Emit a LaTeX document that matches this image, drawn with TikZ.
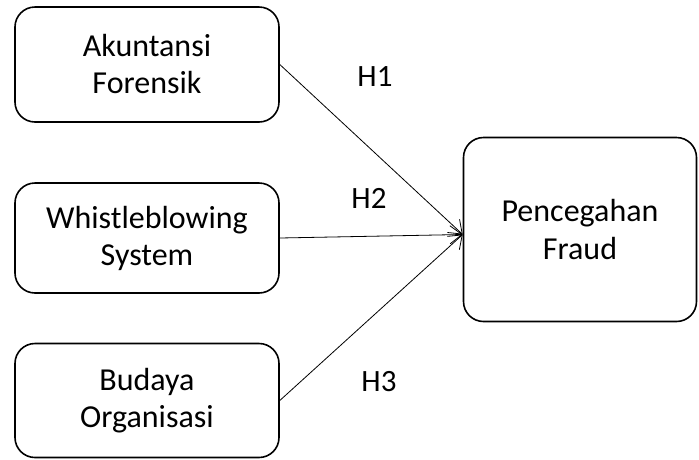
\documentclass[tikz,border=0pt]{standalone}
\usepackage{fontspec}
\setmainfont{Carlito}
\usetikzlibrary{arrows.meta}
\tikzstyle{varbox}=[draw, line width=1.6pt, rounded corners=20pt, align=center, font=\fontsize{32}{37}\selectfont]
\tikzstyle{hyp}=[-{Straight Barb[length=12pt,width=18pt]}, line width=0.8pt]
\tikzstyle{hlabel}=[font=\fontsize{31}{34}\selectfont]

\begin{document}
\begin{tikzpicture}[x=1pt, y=1pt]
    \useasboundingbox (0, 0) rectangle (699, -459);
    \node [varbox, minimum width=264pt, minimum height=115pt] (akun) at (147, -64.5) {Akuntansi\\Forensik};
    \node [varbox, minimum width=264pt, minimum height=110pt] (wbs) at (147, -238) {Whistleblowing\\System};
    \node [varbox, minimum width=264pt, minimum height=114pt] (budaya) at (147, -400.5) {Budaya\\Organisasi};
    \node [varbox, minimum width=233pt, minimum height=184pt] (fraud) at (580, -229.5) {Pencegahan\\Fraud};
    \coordinate (tip) at ([yshift=-5pt]fraud.west);
    \draw [hyp] (akun.east) -- (tip);
    \draw [hyp] (wbs.east) -- (tip);
    \draw [hyp] (budaya.east) -- (tip);
    \node [hlabel] (h1) at (375, -77) {H1};
    \node [hlabel] (h2) at (369, -198) {H2};
    \node [hlabel] (h3) at (379, -382) {H3};
  \end{tikzpicture}
\end{document}
